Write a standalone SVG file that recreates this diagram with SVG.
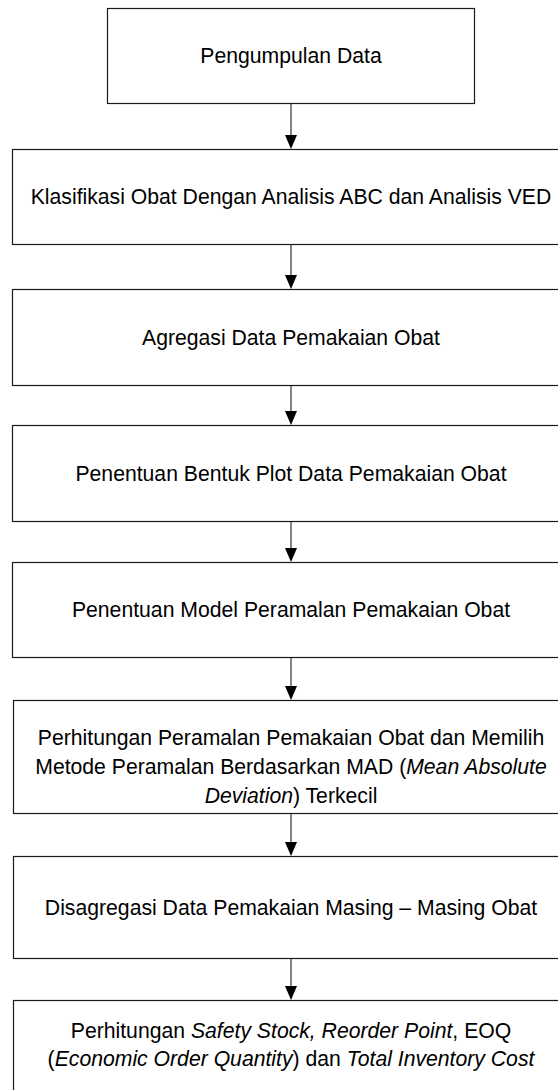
<svg xmlns="http://www.w3.org/2000/svg" width="558" height="1090" viewBox="0 0 558 1090">
<defs>
<style>
.box{fill:#fff;stroke:#1a1a1a;stroke-width:1.2}
.t{font-family:"Liberation Sans",Arial,sans-serif;font-size:21.2px;fill:#000;text-anchor:middle}
.i{font-style:italic}
.c{stroke:#333;stroke-width:1.2;fill:none}
.h{fill:#000}
</style>
</defs>
<rect width="558" height="1090" fill="#fff"/>
<g id="connectors">
<line class="c" x1="291" y1="103.5" x2="291" y2="137"/>
<line class="c" x1="291" y1="244.5" x2="291" y2="277"/>
<line class="c" x1="291" y1="385" x2="291" y2="413"/>
<line class="c" x1="291" y1="521" x2="291" y2="550"/>
<line class="c" x1="291" y1="657" x2="291" y2="688"/>
<line class="c" x1="291" y1="813" x2="291" y2="844"/>
<line class="c" x1="291" y1="958" x2="291" y2="988"/>
<path class="h" d="M285,135 L297,135 L291,149 Z"/>
<path class="h" d="M285,275 L297,275 L291,289 Z"/>
<path class="h" d="M285,411 L297,411 L291,425 Z"/>
<path class="h" d="M285,548 L297,548 L291,562 Z"/>
<path class="h" d="M285,686 L297,686 L291,700 Z"/>
<path class="h" d="M285,842 L297,842 L291,856 Z"/>
<path class="h" d="M285,986 L297,986 L291,1000 Z"/>
</g>
<g id="n1">
<rect class="box" x="107.5" y="8.5" width="367" height="95"/>
<text class="t" x="291" y="63">Pengumpulan Data</text>
</g>
<g id="n2">
<rect class="box" x="12.5" y="149.5" width="560" height="95"/>
<text class="t" x="291" y="204">Klasifikasi Obat Dengan Analisis ABC dan Analisis VED</text>
</g>
<g id="n3">
<rect class="box" x="12.5" y="289.5" width="560" height="96"/>
<text class="t" x="291" y="344.5">Agregasi Data Pemakaian Obat</text>
</g>
<g id="n4">
<rect class="box" x="12.5" y="425.5" width="560" height="96"/>
<text class="t" x="291" y="480.5">Penentuan Bentuk Plot Data Pemakaian Obat</text>
</g>
<g id="n5">
<rect class="box" x="12.5" y="562.5" width="560" height="95"/>
<text class="t" x="291" y="617">Penentuan Model Peramalan Pemakaian Obat</text>
</g>
<g id="n6">
<rect class="box" x="13.5" y="700.5" width="560" height="113"/>
<text class="t" x="291" y="744.5">Perhitungan Peramalan Pemakaian Obat dan Memilih</text>
<text class="t" x="291" y="773.5">Metode Peramalan Berdasarkan MAD (<tspan class="i">Mean Absolute</tspan></text>
<text class="t" x="291" y="802.5"><tspan class="i">Deviation</tspan>) Terkecil</text>
</g>
<g id="n7">
<rect class="box" x="13.5" y="856.5" width="560" height="102"/>
<text class="t" x="291" y="914.5">Disagregasi Data Pemakaian Masing – Masing Obat</text>
</g>
<g id="n8">
<rect class="box" x="13.5" y="1000.5" width="560" height="120"/>
<text class="t" x="291" y="1037.5">Perhitungan <tspan class="i">Safety Stock, Reorder Point</tspan>, EOQ</text>
<text class="t" x="291" y="1065.5">(<tspan class="i">Economic Order Quantity</tspan>) dan <tspan class="i">Total Inventory Cost</tspan></text>
</g>
</svg>
